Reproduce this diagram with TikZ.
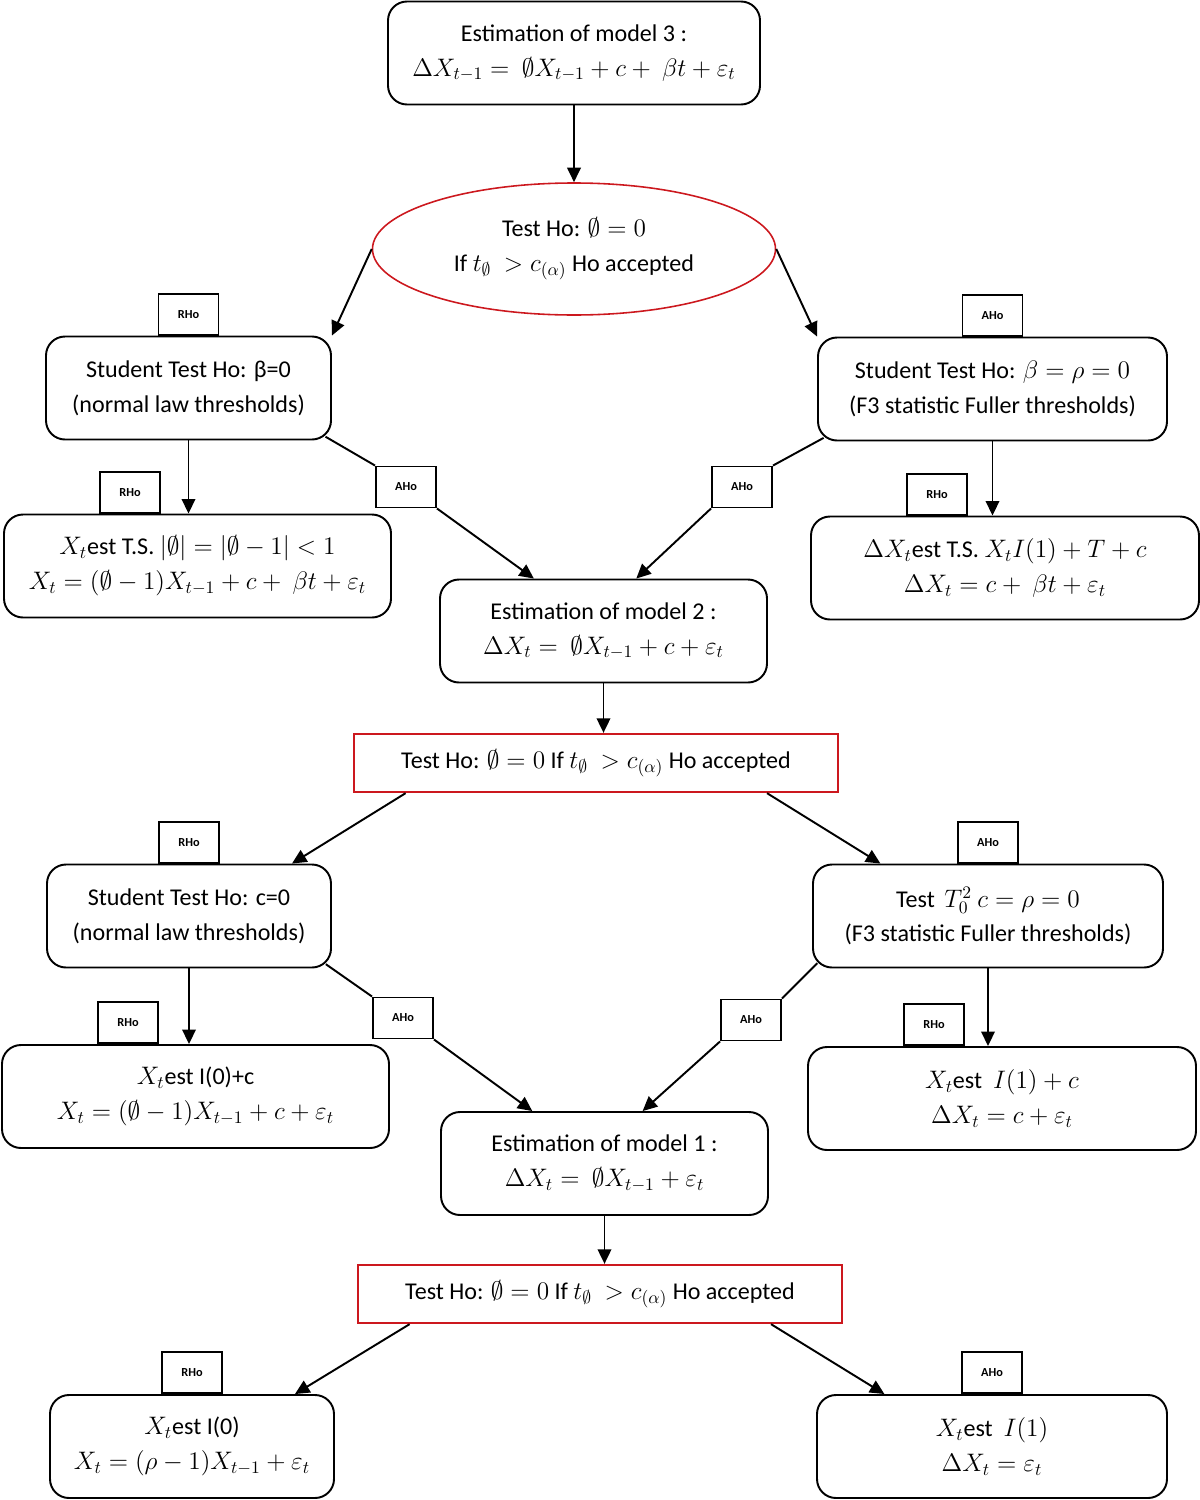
\documentclass[tikz,border=0pt]{standalone}
\usepackage{fontspec}
\setmainfont{Carlito}
\usepackage{tikz}
\usetikzlibrary{positioning,calc}
\usetikzlibrary{shapes.geometric, arrows.meta}
\definecolor{tred}{RGB}{204,24,30}
\tikzset{
  bx/.style={rectangle, rounded corners=3.8mm, minimum width=#1, minimum height=2.06cm, inner sep=0pt, text centered, align=center, draw=black},
  tst/.style={rectangle, minimum width=9.68cm, minimum height=1.16cm, inner sep=0pt, text centered, draw=tred, line width=1.3pt},
  el/.style={ellipse, minimum width=8.06cm, minimum height=2.64cm, inner sep=0pt, align=center, draw=tred, line width=0.9pt},
  tg/.style={rectangle, minimum width=1.2cm, minimum height=0.82cm, inner sep=0pt, draw=black, font=\fontsize{7}{8}\selectfont\bfseries},
  fromcorner/.style={shorten <=-1.5mm}
}
\begin{document}
\begin{tikzpicture}[x=0.2mm, y=-0.2mm, line width=1.1pt, >={Triangle[length=2.9mm, width=2.7mm]}, font=\fontsize{13.7}{19.8}\selectfont]
	\useasboundingbox (0,0) rectangle (1200,1500);
	\node[bx=7.44cm] (m3) at (574,53) {Estimation of model 3 :\\ $\Delta X_{t-1} = \ \emptyset X_{t-1} + c + \ \beta t + \varepsilon_t$};
	\node[el] (t3) at (574,249) {Test Ho: $\emptyset = 0$\\ If $t_{\emptyset}\ > c_{(\alpha)}$ Ho accepted};
	\node[bx=5.7cm] (st3) at (188.5,388) {Student Test Ho: β=0\\ (normal law thresholds)};
	\node[bx=6.98cm] (f3) at (992.5,389) {Student Test Ho: $\beta = \rho = 0$\\ (F3 statistic Fuller thresholds)};
	\node[bx=7.74cm] (ts3) at (197.5,566) {$X_t$est T.S. $|\emptyset| = |\emptyset - 1| < 1$\\ $X_t = (\emptyset - 1)X_{t-1} + c + \ \beta t + \varepsilon_t$};
	\node[bx=7.76cm] (dt3) at (1005,568) {$\Delta X_t$est T.S. $X_t I(1) + T + c$\\ $\Delta X_t = c + \ \beta t + \varepsilon_t$};
	\node[bx=6.54cm] (m2) at (603.5,631) {Estimation of model 2 :\\ $\Delta X_t = \ \emptyset X_{t-1} + c + \varepsilon_t$};
	\node[tst] (t2) at (596,763) {Test Ho: $\emptyset = 0$ If $t_{\emptyset}\ > c_{(\alpha)}$ Ho accepted};
	\node[bx=5.68cm] (st2) at (189,916) {Student Test Ho: c=0\\ (normal law thresholds)};
	\node[bx=7cm] (f2) at (988,916) {Test\, $T_0^2\ c = \rho = 0$\\ (F3 statistic Fuller thresholds)};
	\node[bx=7.74cm] (i0c) at (195.5,1096.5) {$X_t$est I(0)+c\\ $X_t = (\emptyset - 1)X_{t-1} + c + \varepsilon_t$};
	\node[bx=7.76cm] (i1c) at (1002,1098.5) {$X_t$est \ $I(1) + c$\\ $\Delta X_t = c + \varepsilon_t$};
	\node[bx=6.54cm] (m1) at (604.5,1163.5) {Estimation of model 1 :\\ $\Delta X_t = \ \emptyset X_{t-1} + \varepsilon_t$};
	\node[tst] (t1) at (600,1294) {Test Ho: $\emptyset = 0$ If $t_{\emptyset}\ > c_{(\alpha)}$ Ho accepted};
	\node[bx=5.68cm] (i0) at (192,1446.5) {$X_t$est I(0)\\ $X_t = (\rho - 1)X_{t-1} + \varepsilon_t$};
	\node[bx=7cm] (i1) at (992,1446.5) {$X_t$est \ $I(1)$\\ $\Delta X_t = \varepsilon_t$};
	%
	\node[tg, above=0pt of st3] (r3a) {RHo};
	\node[tg, above=0pt of f3] (a3a) {AHo};
	\node[tg, above right=0pt and 19.2mm of ts3.north west] (r3b) {RHo};
	\node[tg, above right=0pt and 19.2mm of dt3.north west] (r3c) {RHo};
	\node[tg] (a3l) at (406,487) {AHo};
	\node[tg] (a3r) at (742,487) {AHo};
	\node[tg, above=0pt of st2] (r2a) {RHo};
	\node[tg, above=0pt of f2] (a2a) {AHo};
	\node[tg, above right=0pt and 19.2mm of i0c.north west] (r2b) {RHo};
	\node[tg, above right=0pt and 19.2mm of i1c.north west] (r2c) {RHo};
	\node[tg] (a2l) at (403,1018) {AHo};
	\node[tg] (a2r) at (751,1020) {AHo};
	\node[tg, above=0pt of i0] (r1a) {RHo};
	\node[tg, above=0pt of i1] (a1a) {AHo};
	%
	\draw[->] (m3) -- (t3);
	\draw[->] (t3.west) -- (st3.north east);
	\draw[->] (t3.east) -- (f3.north west);
	\draw[->] (st3.south) -- (st3.south |- ts3.north);
	\draw[fromcorner] (st3.south east) -- (a3l.north west);
	\draw[->] (a3l.south east) -- (m2.143);
	\draw[fromcorner] (f3.south west) -- (a3r.north east);
	\draw[->] (a3r.south west) -- (m2.58);
	\draw[->] (f3.south) -- (f3.south |- dt3.north);
	\draw[->] (m2.south) -- (m2.south |- t2.north);
	\draw[->] (t2.-171) -- (st2.27);
	\draw[->] (t2.-10) -- (f2.154);
	\draw[->] (st2.south) -- (st2.south |- i0c.north);
	\draw[fromcorner] (st2.south east) -- (a2l.north west);
	\draw[->] (a2l.south east) -- (m1.144);
	\draw[fromcorner] (f2.south west) -- (a2r.north east);
	\draw[->] (a2r.south west) -- (m1.54);
	\draw[->] (f2.south) -- (f2.south |- i1c.north);
	\draw[->] (m1.south) -- (m1.south |- t1.north);
	\draw[->] (t1.-171) -- (i0.27);
	\draw[->] (t1.-10) -- (i1.154);
\end{tikzpicture}
\end{document}
